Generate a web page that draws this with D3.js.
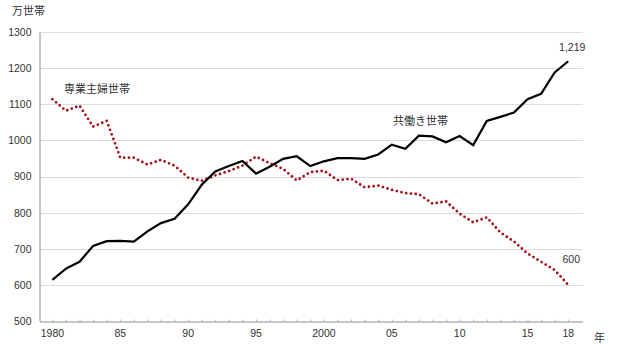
<!DOCTYPE html>
<html><head><meta charset="utf-8">
<script src="https://cdn.jsdelivr.net/npm/d3@7"></script>
<style>
html,body{margin:0;padding:0;background:#fff;}
text{font-family:"Liberation Sans",Arial,sans-serif;}
.jp{font-family:"Noto Sans CJK JP",sans-serif;}
</style></head><body>
<svg id="c" width="620" height="348"></svg>
<script>
const years = d3.range(1980, 2019);
const dualIncome = [614,645,664,708,721,722,720,748,771,783,823,877,914,929,943,908,927,949,956,929,942,951,951,949,961,988,977,1013,1011,995,1012,987,1054,1065,1077,1114,1129,1188,1219];
const housewife = [1114,1082,1096,1038,1054,952,952,933,946,930,897,888,903,915,930,955,937,921,889,912,916,890,894,870,875,863,854,851,825,831,797,773,787,745,720,687,664,641,600];
const yTicks = [500,600,700,800,900,1000,1100,1200,1300];
const xTickYears = [1980,1985,1990,1995,2000,2005,2010,2015,2018];
const xTickLabels = ["1980","85","90","95","2000","05","10","15","18"];

const svg = d3.select("#c");
const x = d3.scaleLinear().domain([1979.05, 2019.05]).range([39.5, 582.5]);
const y = d3.scaleLinear().domain([500, 1300]).range([321, 32]);

// grid
svg.append("g").selectAll("line").data(yTicks.slice(1)).join("line")
  .attr("x1", 39.5).attr("x2", 583).attr("y1", d=>Math.round(y(d))+0.5).attr("y2", d=>Math.round(y(d))+0.5)
  .attr("stroke", "#dcdcdc").attr("stroke-width", 1);

// y axis
const yAxis = svg.append("g").attr("transform","translate(39.5,0)")
  .call(d3.axisLeft(y).tickValues(yTicks).tickFormat(d3.format("d")).tickSize(0).tickPadding(8));
yAxis.select(".domain").attr("stroke","#8c8c8c");
yAxis.selectAll("text").attr("font-size", 10.5).attr("fill","#333").attr("font-family","Liberation Sans, Arial, sans-serif");

// x axis
const xAxis = svg.append("g").attr("transform","translate(0,321.5)")
  .call(d3.axisBottom(x).tickValues(years).tickSize(-2).tickFormat(()=>"").tickSizeOuter(0));
xAxis.select(".domain").attr("stroke","#8c8c8c");
xAxis.selectAll(".tick line").attr("stroke","#b0b0b0");
svg.append("g").selectAll("text").data(xTickYears).join("text")
  .attr("x", d=>x(d)).attr("y", 337).attr("text-anchor","middle")
  .attr("font-size", 10.5).attr("fill","#333")
  .text((d,i)=>xTickLabels[i]);

const line = d3.line().x((d,i)=>x(years[i])).y(d=>y(d));

svg.append("path").datum(housewife).attr("d", line)
  .attr("fill","none").attr("stroke","#a50f15").attr("stroke-width",2.8)
  .attr("stroke-linecap","round").attr("stroke-dasharray","0 4.8");

svg.append("path").datum(dualIncome).attr("d", line)
  .attr("fill","none").attr("stroke","#000").attr("stroke-width",2.2)
  .attr("stroke-linejoin","miter");

// labels
svg.append("text").attr("class","jp").attr("x",12).attr("y",15).attr("font-size",11).attr("fill","#333").text("万世帯");
svg.append("text").attr("class","jp").attr("x",64).attr("y",93).attr("font-size",11).attr("fill","#333").text("専業主婦世帯");
svg.append("text").attr("class","jp").attr("x",393).attr("y",125).attr("font-size",11).attr("fill","#333").text("共働き世帯");
svg.append("text").attr("x",x(2018)+4).attr("y",y(1219)-10).attr("text-anchor","middle").attr("font-size",10.5).attr("fill","#333").text("1,219");
svg.append("text").attr("x",x(2018)+3).attr("y",y(600)-22).attr("text-anchor","middle").attr("font-size",10.5).attr("fill","#333").text("600");
svg.append("text").attr("class","jp").attr("x",594).attr("y",342).attr("font-size",11).attr("fill","#333").text("年");
</script></body></html>
